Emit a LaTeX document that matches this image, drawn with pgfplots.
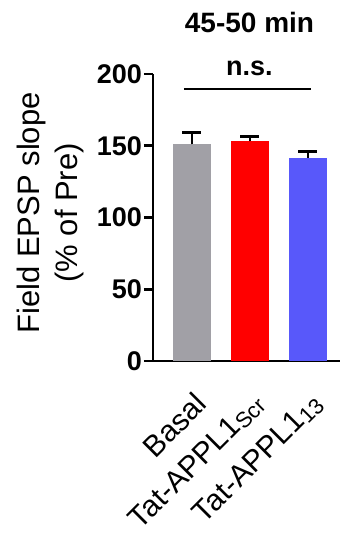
\documentclass[border=0pt]{standalone}
\usepackage{fontspec}
\setmainfont{Liberation Sans}
\usepackage{pgfplots}
\pgfplotsset{compat=1.18}
\definecolor{cgray}{RGB}{161,160,166}
\definecolor{cblue}{RGB}{88,88,250}
\newcommand{\sub}[1]{\raisebox{-3pt}{\fontsize{22}{22}\selectfont #1}}
\begin{document}
\begin{tikzpicture}
\useasboundingbox (0,0) rectangle (340pt,533pt);
\begin{axis}[
  at={(153pt,172pt)}, anchor=south west,
  x=58pt, y=1.435pt,
  xmin=-0.672, xmax=2.552, ymin=0, ymax=200,
  axis x line*=bottom, axis y line*=left,
  axis line style={line width=2.6pt, black},
  clip=false,
  ytick={0,50,100,150,200},
  tick align=outside, major tick length=9pt,
  ytick style={line width=2.6pt, black},
  xtick={0,1,2}, xtick style={draw=none},
  xticklabels={Basal, Tat-APPL1\sub{Scr}, Tat-APPL1\sub{13}},
  xticklabel style={xshift=1pt, yshift=-19pt, rotate=45, anchor=north east, font=\fontsize{30}{30}\selectfont, inner sep=1pt},
  yticklabel style={font=\bfseries\fontsize{27}{27}\selectfont, inner sep=2pt},
  /pgf/number format/assume math mode=true,
  ylabel={Field EPSP slope\\(\% of Pre)},
  ylabel style={align=center, font=\fontsize{31}{38}\selectfont, at={(axis description cs:-0.549,0.516)}, anchor=center},
]
\addplot[ybar, bar width=38pt, bar shift=0pt, fill=cgray, draw=none,
  error bars/.cd, y dir=plus, y explicit,
  error bar style={line width=2.8pt, black},
  error mark options={rotate=90, mark size=9.5pt, line width=2.8pt, black}]
  coordinates {(0,151) +- (0,8.3)};
\addplot[ybar, bar width=38pt, bar shift=0pt, fill=red, draw=none,
  error bars/.cd, y dir=plus, y explicit,
  error bar style={line width=2.8pt, black},
  error mark options={rotate=90, mark size=9.5pt, line width=2.8pt, black}]
  coordinates {(1,153) +- (0,3.2)};
\addplot[ybar, bar width=38pt, bar shift=0pt, fill=cblue, draw=none,
  error bars/.cd, y dir=plus, y explicit,
  error bar style={line width=2.8pt, black},
  error mark options={rotate=90, mark size=9.5pt, line width=2.8pt, black}]
  coordinates {(2,141.5) +- (0,4.4)};
\addplot[line width=2.8pt, black, mark=none] coordinates {(-0.14,189.5) (2.05,189.5)};
\node[font=\bfseries\fontsize{28}{28}\selectfont] at (axis description cs:0.516,1.181) {45-50 min};
\node[font=\bfseries\fontsize{27}{27}\selectfont] at (axis description cs:0.516,1.021) {n.s.};
\end{axis}
\end{tikzpicture}
\end{document}
